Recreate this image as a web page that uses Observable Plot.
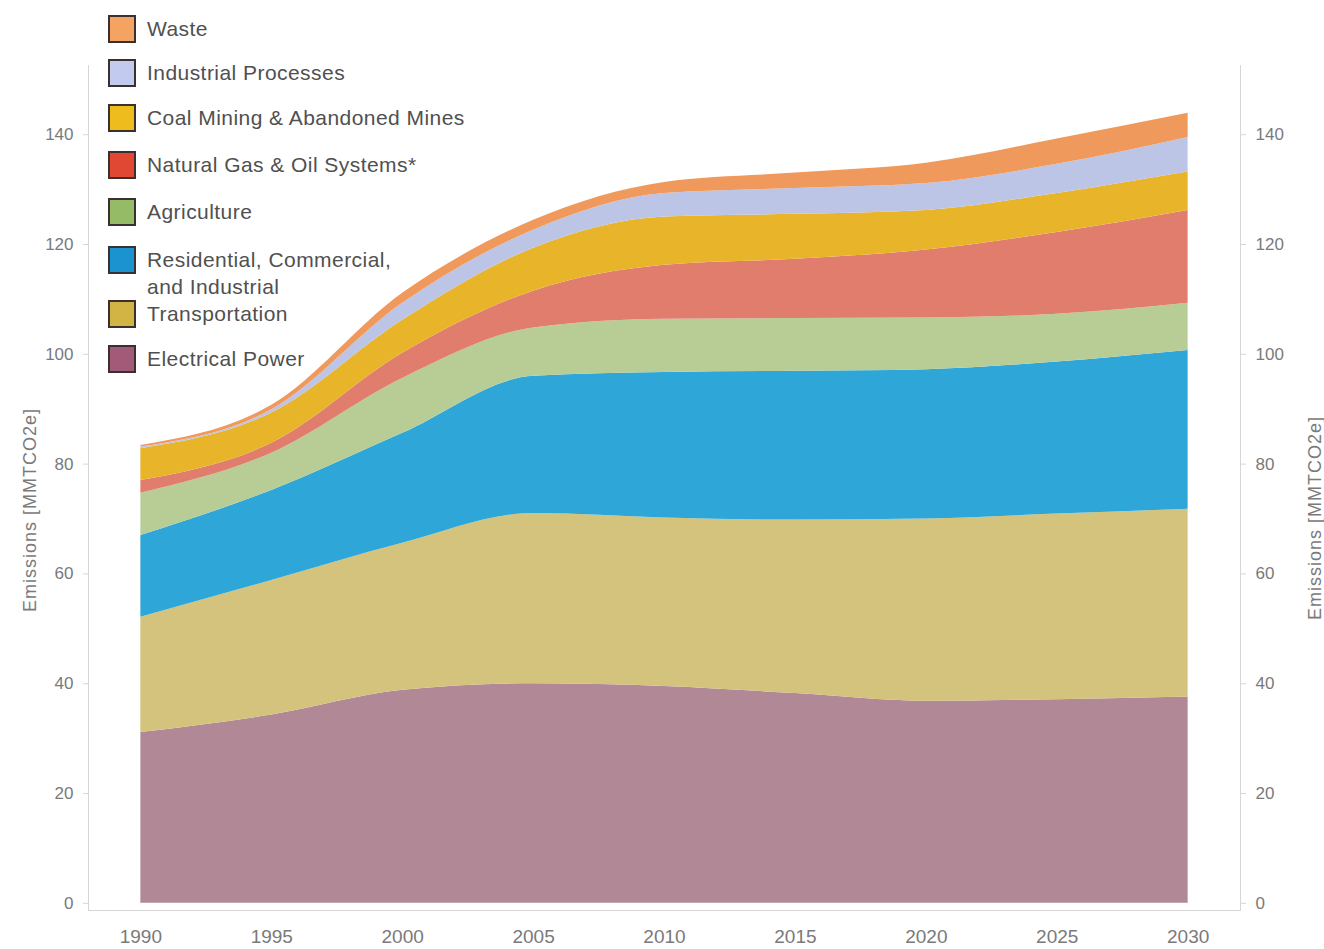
<!DOCTYPE html>
<html>
<head>
<meta charset="utf-8">
<script src="https://cdn.jsdelivr.net/npm/d3@7"></script>
<script src="https://cdn.jsdelivr.net/npm/@observablehq/plot@0.6"></script>
<style>
  html, body { margin: 0; padding: 0; background: #fff; }
  #wrap { position: relative; width: 1324px; height: 949px; overflow: hidden; font-family: "Liberation Sans", Arial, sans-serif; }
  #legend { position: absolute; left: 0; top: 0; }
  .item { position: absolute; left: 108px; display: flex; align-items: flex-start; white-space: nowrap; }
  .sw { width: 24px; height: 24px; border: 2px solid #3a3030; box-sizing: content-box; flex: none; }
  .lab { margin-left: 11px; font-size: 21px; letter-spacing: 0.45px; line-height: 27px; color: #505050; margin-top: 0px; white-space: nowrap; }
  .axtitle text { letter-spacing: 1px; }
</style>
</head>
<body>
<div id="wrap"><div id="chart"></div><div id="legend"></div></div>
<script>
// ---- data ----
const years = [1990, 1995, 2000, 2005, 2010, 2015, 2020, 2025, 2030];
const categories = [
  "Electrical Power",
  "Transportation",
  "Residential, Commercial, and Industrial",
  "Agriculture",
  "Natural Gas & Oil Systems*",
  "Coal Mining & Abandoned Mines",
  "Industrial Processes",
  "Waste"
];
const electricalPower   = [31.1, 34.3, 38.8, 40.0, 39.5, 38.2, 36.8, 37.1, 37.6];
const transportation    = [21.0, 24.5, 26.8, 31.0, 30.7, 31.6, 33.2, 33.8, 34.2];
const residential       = [14.9, 16.4, 20.0, 25.0, 26.5, 27.1, 27.2, 27.7, 28.9];
const agriculture       = [7.7, 6.8, 10.0, 8.8, 9.7, 9.6, 9.4, 8.7, 8.6];
const naturalGasOil     = [2.3, 1.8, 4.6, 6.7, 9.8, 10.8, 12.4, 14.9, 16.9];
const coalMining        = [5.8, 5.5, 6.0, 7.8, 8.8, 8.2, 7.2, 7.1, 7.0];
const industrialProc    = [0.3, 0.6, 3.1, 3.3, 4.3, 4.7, 4.9, 5.3, 6.3];
const waste             = [0.3, 0.8, 1.8, 1.8, 2.0, 2.8, 3.7, 4.6, 4.4];
const seriesValues = [electricalPower, transportation, residential, agriculture, naturalGasOil, coalMining, industrialProc, waste];

const areaColors   = ["#b08896", "#d4c37c", "#2ea7d8", "#b8cd96", "#e07d6c", "#e8b42a", "#bcc5e6", "#f0995c"];
const legendColors = ["#a25a78", "#d2b444", "#1a93d0", "#96bb66", "#e04834", "#eebc1c", "#c2cbef", "#f4a362"];
const legendLabels = ["Electrical Power", "Transportation", "Residential, Commercial,\nand Industrial", "Agriculture",
  "Natural Gas & Oil Systems*", "Coal Mining & Abandoned Mines", "Industrial Processes", "Waste"];
const yTicks = [0, 20, 40, 60, 80, 100, 120, 140];
const xTicks = [1990, 1995, 2000, 2005, 2010, 2015, 2020, 2025, 2030];
const axisTitle = "Emissions [MMTCO2e]";

const data = categories.flatMap((c, i) => years.map((yr, j) => ({year: yr, category: c, value: seriesValues[i][j]})));

const axisGray = "#d6d6d6";
const textGray = "#7a7a7a";

const chart = Plot.plot({
  width: 1324,
  height: 949,
  marginLeft: 88,
  marginRight: 84,
  marginTop: 65,
  marginBottom: 39,
  style: {fontFamily: "Liberation Sans, Arial, sans-serif", background: "transparent"},
  x: {domain: [1988, 2032]},
  y: {domain: [-1.3, 152.6]},
  color: {domain: categories, range: areaColors},
  marks: [
    Plot.areaY(data, {x: "year", y: "value", z: "category", fill: "category", curve: "monotone-x"}),
    Plot.frame({anchor: "left", stroke: axisGray}),
    Plot.frame({anchor: "right", stroke: axisGray}),
    Plot.frame({anchor: "bottom", stroke: axisGray}),
    Plot.axisY({anchor: "left", ticks: yTicks, tickSize: 5, tickPadding: 10, stroke: axisGray, fill: textGray, fontSize: 17, label: null}),
    Plot.axisY({anchor: "right", ticks: yTicks, tickSize: 5, tickPadding: 10, stroke: axisGray, fill: textGray, fontSize: 17, label: null}),
    Plot.axisX({anchor: "bottom", ticks: xTicks, tickFormat: d => String(d), tickSize: 0, tickPadding: 19, fill: textGray, fontSize: 19, label: null}),
    Plot.text([axisTitle], {frameAnchor: "left", textAnchor: "middle", rotate: -90, dx: -58, dy: 22, fontSize: 18, fill: textGray, className: "axtitle"}),
    Plot.text([axisTitle], {frameAnchor: "right", textAnchor: "middle", rotate: -90, dx: 75, dy: 30, fontSize: 18, fill: textGray, className: "axtitle"})
  ]
});
document.getElementById("chart").appendChild(chart);

// legend (overlaid in the upper-left of the plot, top item = Waste)
const legendTops = [345, 300, 246, 198, 151, 104, 59, 15];
const legend = document.getElementById("legend");
categories.forEach((c, i) => {
  const row = document.createElement("div");
  row.className = "item";
  row.style.top = legendTops[i] + "px";
  const sw = document.createElement("div");
  sw.className = "sw";
  sw.style.background = legendColors[i];
  const lab = document.createElement("div");
  lab.className = "lab";
  lab.innerHTML = legendLabels[i].split("\n").join("<br>");
  row.appendChild(sw);
  row.appendChild(lab);
  legend.appendChild(row);
});
</script>
</body>
</html>
